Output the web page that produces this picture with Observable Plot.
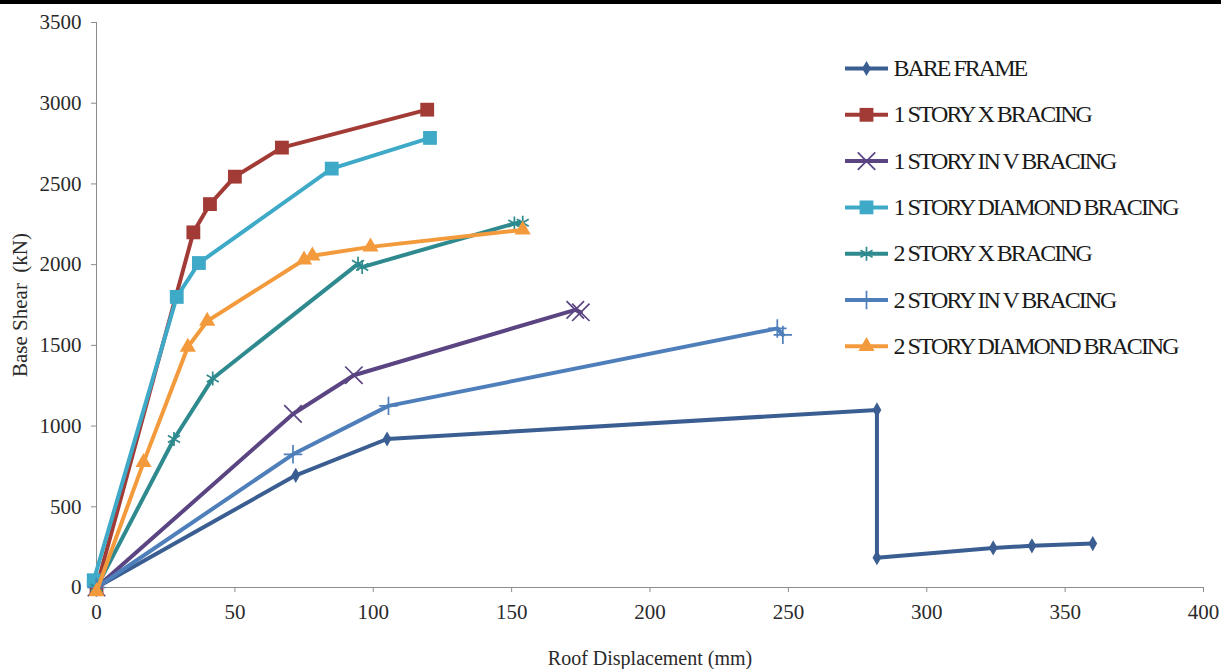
<!DOCTYPE html>
<html><head><meta charset="utf-8">
<script src="https://cdn.jsdelivr.net/npm/d3@7"></script>
<script src="https://cdn.jsdelivr.net/npm/@observablehq/plot@0.6"></script>
<style>
html,body{margin:0;padding:0;background:#fff;}
#wrap{position:relative;width:1221px;height:669px;overflow:hidden;background:#fff;}
#topbar{position:absolute;left:0;top:0;width:1221px;height:4px;background:#000;}
#chart{position:absolute;left:0;top:0;}
#legend{position:absolute;left:0;top:0;pointer-events:none;}
</style></head><body>
<div id="wrap"><div id="chart"></div><div id="legend"></div><div id="topbar"></div></div>
<script>
// ---- data ----
const seriesNames = [
  "BARE FRAME",
  "1 STORY X BRACING",
  "1 STORY IN V BRACING",
  "1 STORY DIAMOND BRACING",
  "2 STORY X BRACING",
  "2 STORY IN V BRACING",
  "2 STORY DIAMOND BRACING"
];
const seriesColors = ["#3b5e92", "#a23b36", "#5a4482", "#3fa9c8", "#2e8a8e", "#4f7fba", "#f39b3c"];
const seriesSymbols = ["diamond", "square", "times", "square", "asterisk", "plus", "triangle"];

const bareFrameX = [0, 72, 105, 282, 282, 324, 338, 360];
const bareFrameY = [0, 695, 920, 1100, 185, 245, 258, 272];

const oneStoryXX = [0, 35, 41, 50, 67, 119.5];
const oneStoryXY = [0, 2200, 2375, 2545, 2725, 2960];

const oneStoryVX = [0, 71, 93, 173, 175];
const oneStoryVY = [0, 1075, 1315, 1720, 1705];

const oneStoryDX = [-1, 29, 37, 85, 120.5];
const oneStoryDY = [45, 1800, 2010, 2595, 2785];

const twoStoryXX = [0, 28, 42, 94.5, 96, 151, 154];
const twoStoryXY = [0, 920, 1295, 2005, 1985, 2255, 2260];

const twoStoryVX = [0, 71, 105.5, 246, 248];
const twoStoryVY = [0, 825, 1125, 1605, 1565];

const twoStoryDX = [0, 17, 33, 40, 75, 78, 99, 154];
const twoStoryDY = [-25, 775, 1490, 1650, 2030, 2055, 2110, 2215];

const xTicks = [0, 50, 100, 150, 200, 250, 300, 350, 400];
const yTicks = [0, 500, 1000, 1500, 2000, 2500, 3000, 3500];

// ---- build table ----
const allX = [bareFrameX, oneStoryXX, oneStoryVX, oneStoryDX, twoStoryXX, twoStoryVX, twoStoryDX];
const allY = [bareFrameY, oneStoryXY, oneStoryVY, oneStoryDY, twoStoryXY, twoStoryVY, twoStoryDY];
const series = seriesNames.map((name, i) =>
  allX[i].map((x, j) => ({series: name, x, y: allY[i][j]}))
);

const filledSymbols = new Set(["diamond", "square", "triangle"]);
const symbolRadius = {diamond: 4.6, square: 7.8, triangle: 6, times: 8, asterisk: 6.6, plus: 6};

const font = "Liberation Serif, Times New Roman, serif";
const colorScale = {domain: seriesNames, range: seriesColors};

function dotMark(data, sym, extra = {}) {
  const base = {symbol: () => sym, r: symbolRadius[sym], ...extra};
  if (filledSymbols.has(sym)) return Plot.dot(data, {...base, fill: "series", stroke: "none"});
  return Plot.dot(data, {...base, stroke: "series", fill: "none", strokeWidth: 1.7});
}

const marks = [
  Plot.ruleX([0], {y1: 0, y2: 3500, stroke: "#8c8c8c", strokeWidth: 1}),
  Plot.ruleY([0], {x1: 0, x2: 400, stroke: "#8c8c8c", strokeWidth: 1}),
  Plot.axisY({ticks: yTicks, tickSize: 5, tickPadding: 10, label: null, stroke: "#8c8c8c", fill: "#2a2a2a", fontSize: 21, fontFamily: font, tickFormat: d => String(d)}),
  Plot.axisX({ticks: xTicks, tickSize: 5, tickPadding: 12, label: null, stroke: "#8c8c8c", fill: "#2a2a2a", fontSize: 21, fontFamily: font, tickFormat: d => String(d)}),
  Plot.text(["Roof Displacement (mm)"], {frameAnchor: "bottom", dy: 71, text: d => d, fontSize: 20, fontFamily: font, fill: "#2a2a2a", lineAnchor: "middle", textAnchor: "middle"}),
  Plot.text(["Base Shear  (kN)"], {frameAnchor: "left", dx: -76, rotate: -90, text: d => d, fontSize: 21, fontFamily: font, fill: "#2a2a2a", lineAnchor: "middle", textAnchor: "middle"})
];
series.forEach((data, i) => {
  marks.push(Plot.line(data, {x: "x", y: "y", stroke: "series", strokeWidth: 4, curve: "linear", strokeLinejoin: "round"}));
  marks.push(dotMark(data, seriesSymbols[i], {x: "x", y: "y"}));
});

const chart = Plot.plot({
  width: 1221,
  height: 669,
  marginLeft: 96,
  marginRight: 18,
  marginTop: 22,
  marginBottom: 82,
  x: {domain: [0, 400]},
  y: {domain: [0, 3500]},
  color: colorScale,
  style: {background: "transparent", fontFamily: font, overflow: "visible"},
  marks
});
document.getElementById("chart").appendChild(chart);

// ---- legend ----
const legendRows = seriesNames.map((name, i) => ({series: name, ly: 68 + i * 46.3, sym: seriesSymbols[i]}));
const legendMarks = [
  Plot.ruleY(legendRows, {y: "ly", x1: 845, x2: 888, stroke: "series", strokeWidth: 4})
];
legendRows.forEach(row => {
  legendMarks.push(dotMark([row], row.sym, {x: 866, y: "ly"}));
});
legendMarks.push(Plot.text(legendRows, {x: 893, y: "ly", text: "series", textAnchor: "start", lineAnchor: "middle", fontSize: 24, fontFamily: font, fill: "#1a1a1a"}));

const legend = Plot.plot({
  width: 1221,
  height: 669,
  margin: 0,
  x: {type: "identity", axis: null},
  y: {type: "identity", axis: null},
  color: colorScale,
  style: {background: "transparent", fontFamily: font, letterSpacing: "-2px"},
  marks: legendMarks
});
document.getElementById("legend").appendChild(legend);
</script>
</body></html>
